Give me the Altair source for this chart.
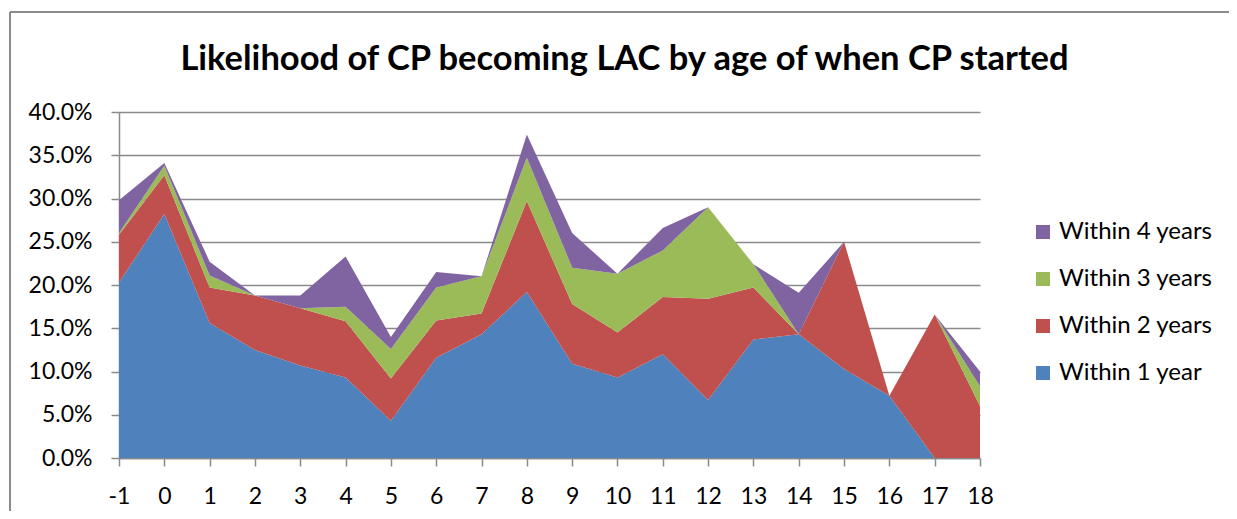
import altair as alt
import pandas as pd

# Age when CP started
ages = list(range(-1, 19))

# Percentages (per-series contribution, stacked in the chart)
within_1_year = [20.3, 28.2, 15.6, 12.5, 10.7, 9.3, 4.3, 11.6, 14.3, 19.2, 10.9, 9.3, 12.0, 6.7, 13.7, 14.3, 10.3, 7.2, 0.0, 0.0]
within_2_years = [5.5, 4.5, 4.1, 6.3, 6.6, 6.5, 4.9, 4.3, 2.4, 10.5, 6.9, 5.2, 6.6, 11.7, 6.0, 0.0, 14.7, 0.0, 16.6, 6.0]
within_3_years = [0.2, 1.1, 1.4, 0.0, 0.0, 1.7, 3.4, 3.8, 4.3, 5.0, 4.2, 6.8, 5.4, 10.6, 2.7, 0.0, 0.0, 0.0, 0.0, 2.3]
within_4_years = [3.8, 0.3, 1.6, 0.0, 1.5, 5.8, 1.4, 1.8, 0.0, 2.7, 4.0, 0.0, 2.6, 0.0, 0.0, 4.8, 0.0, 0.0, 0.0, 1.7]

series_names = ["Within 1 year", "Within 2 years", "Within 3 years", "Within 4 years"]
series_colors = ["#4F81BD", "#C0504D", "#9BBB59", "#8064A2"]
y_ticks = [0.0, 0.05, 0.1, 0.15, 0.2, 0.25, 0.3, 0.35, 0.4]

rows = []
for k, (name, vals) in enumerate(zip(series_names, [within_1_year, within_2_years, within_3_years, within_4_years])):
    for a, v in zip(ages, vals):
        rows.append({"age": a, "series": name, "value": v / 100.0, "ord": k})
df = pd.DataFrame(rows)

GREY = "#8a8a8a"
FONT = "Lato"

area = alt.Chart(df).mark_area(opacity=1, interpolate="linear").encode(
    x=alt.X("age:Q",
            scale=alt.Scale(domain=[-1, 18], nice=False, zero=False),
            axis=alt.Axis(values=ages, labelExpr="'' + datum.value", title=None, grid=False,
                          tickSize=8, tickColor=GREY, tickWidth=1.5,
                          domainColor=GREY, domainWidth=1.5,
                          labelPadding=19, labelFontSize=23, labelFont=FONT,
                          labelColor="black", labelFlush=False)),
    y=alt.Y("value:Q", stack="zero",
            scale=alt.Scale(domain=[0, 0.4], nice=False),
            axis=alt.Axis(values=y_ticks, format=".1%", title=None, grid=True,
                          gridColor=GREY, gridWidth=1.5,
                          tickSize=8, tickColor=GREY, tickWidth=1.5,
                          domainColor=GREY, domainWidth=1.5,
                          labelPadding=19, labelFontSize=23, labelFont=FONT,
                          labelColor="black")),
    color=alt.Color("series:N",
                    scale=alt.Scale(domain=series_names[::-1], range=series_colors[::-1]),
                    legend=alt.Legend(title=None, orient="none", legendX=912, legendY=108,
                                      symbolType="square", symbolSize=196,
                                      symbolStrokeWidth=0, symbolOpacity=1,
                                      labelFontSize=24, labelFont=FONT, labelColor="black",
                                      rowPadding=23, labelOffset=4)),
    order=alt.Order("ord:Q", sort="ascending"),
)

frame_df = pd.DataFrame({"f": [0]})
frame_top = alt.Chart(frame_df).mark_rule(stroke=GREY, strokeWidth=2).encode(
    x=alt.value(-109), x2=alt.value(1300), y=alt.value(-100)
)
frame_left = alt.Chart(frame_df).mark_rule(stroke=GREY, strokeWidth=2).encode(
    x=alt.value(-109), y=alt.value(-100), y2=alt.value(700)
)

chart = alt.layer(frame_top, frame_left, area).properties(
    width=861,
    height=346,
    padding={"left": 111, "top": 104, "right": 249, "bottom": 53},
    autosize=alt.AutoSizeParams(type="none"),
    title=alt.TitleParams(
        "Likelihood of CP becoming LAC by age of when CP started",
        font=FONT, fontSize=34.5, fontWeight="bold", color="black",
        anchor="middle", frame="group", dx=75, offset=-83, baseline="middle",
    ),
).configure_view(stroke=None)

chart.save("out.html", embed_options={"renderer": "svg", "actions": False})
